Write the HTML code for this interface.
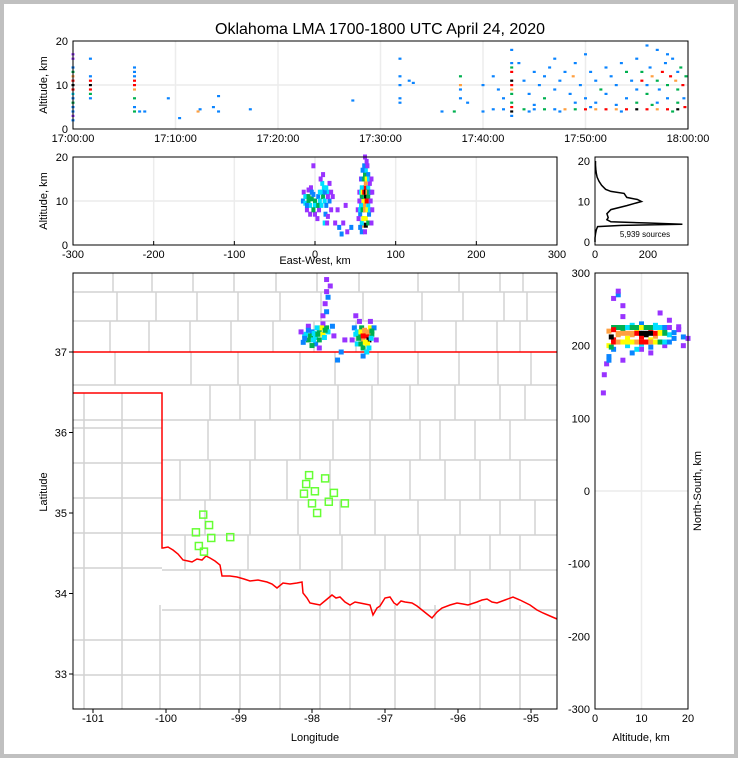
<!DOCTYPE html>
<html><head><meta charset="utf-8">
<style>
html,body{margin:0;padding:0;background:#c0c0c0;}
#wrap{position:absolute;left:4px;top:4px;width:730px;height:750px;background:#fff;}
svg{position:absolute;left:0;top:0;font-family:"Liberation Sans",sans-serif;}
</style></head>
<body>
<div id="wrap"></div>
<svg id="chart" width="738" height="758"></svg>
<script>
// ---------- data ----------
const colorScale = ["#9933ff","#0a84ff","#00e0ff","#00b050","#ffff00","#ffa040","#ff0000","#000000"];
// top panel: time (min after 17:00), altitude km, color index
const topT = [0,0,0,0,0,0,0,0,0,0,0,0,0,0,0, 1.7,1.7,1.7,1.7,1.7,1.7,1.7, 6,6,6,6,6,6,6,6,6,
 6.5,7,9.3,10.4,12.2,12.4,13.7,14.2,14.2,17.3,27.3,31.9,31.9,31.9,31.9,31.9,32.8,33.2,36,37.2,37.8,37.8,37.8,37.8,38.5,40,40,
 42.8,42.8,42.8,42.8,42.8,42.8,42.8,42.8,42.8,42.8,42.8,42.8,
 41,42,44,45,46,47,48,49,50,51,52,53,54,55,56,57,58,59,59.7,44.5,47.5,50.5,53.5,56.5,58.5,
 41,41.5,42,43.5,44,44.5,45,45.5,46,46,46.5,47,47.5,48,48.5,48.8,49,49.5,50,50.5,51,51.5,52,52,52.5,53,53.5,54,54,54.5,55,55,55.5,55.5,56,56,56.3,56.5,57,57,57.2,57.5,57.8,58,58,58.3,58.5,58.8,59,59,59.3,59.5,59.6,59.8,53,45,50,56,58,47,49,51,55,57,59];
const topZ = [2,3,5,6,7,8,9,10,11,12,13,14,16,17,4, 7,8,9,10,11,12,16, 5,7,9,10,11,12,13,14,4,
 4,4,7,2.5,4,4.5,5,4,7.5,4.5,6.5,16,12,7,6,10,11,10.5,4,4,12,10,9,7,6,10,4,
 18,15,13,11,10,9,8,6,5,4,3,14,
 4.5,4.5,4.5,4.5,4.5,4.5,4.5,4.5,4.5,4.5,4.5,4.5,4.5,4.5,4.5,4.5,4.5,4.5,5,4,4,5,4,5.5,4,
 12,9,7,15,11,8,13,10,7,12,14,9,11,13,8,12,15,10,7,13,11,9,14,8,12,10,15,13,7,11,9,16,13,11,10,8,14,12,18,11,9,13,15,10,7,12,16,11,9,13,14,10,7,12,5.5,5.5,17,19,17,16,6,6,6,6,6];
const topC = [1,0,1,3,1,2,6,7,6,5,3,1,0,0,1, 1,3,6,7,6,1,1, 1,3,5,6,6,1,1,1,3,
 1,1,1,1,5,1,1,1,1,1,1,1,1,1,1,1,1,1,1,3,3,5,1,1,1,1,1,
 1,1,6,7,6,5,3,3,6,7,1,3,
 1,1,3,1,3,1,5,3,6,5,6,5,6,7,6,5,6,7,6,1,1,1,1,3,3,
 1,1,1,1,1,1,1,1,3,1,1,1,1,1,1,5,1,1,1,1,1,3,1,1,1,1,1,3,1,1,1,1,3,6,1,3,1,5,1,3,1,6,1,3,1,6,1,5,3,1,3,6,1,3,1,1,1,1,1,1,1,1,3,1,3];
// east-west panel: x km, altitude km, color
const ewX = [-15,-12,-10,-8,-6,-4,-2,0,2,4,6,8,10,12,14,16,18,20,-14,-10,-5,0,5,9,11,13,12,15,18,-8,3,22,7,-2,10,16,-6,
 25,30,35,40,45,28,38,33,20,
 60,63,62,64,61,63,60,62,64,60,62,63,61,64,62,58,58,57,66,66,66,60,63,60,63,66,58,56,67,55,68,59,66,56,58,62,65,54,70,69,57,
 -12,-8,-4,0,4,8,12,16,-10,-2,6,14,
 55,57,59,61,63,65,67,69,71,53,56,59,62,65,68,71,58,61,64,67,70,60,64];
const ewZ = [10,9.5,11,10,9,10.5,11.5,10,9,11,10,12,11,10,9,12,10,8,12,8,13,7,8,14,13,7,5,5,14,12.5,6,11,15,18,16,6.5,7,
 5,4,5,3,4,8,9,2.5,12,
 12,11,13,10,9,14,10,8,12,15,16,17,18,19,20,11,13,9,11,13,9,6,6,4.5,4.5,5,5,7,7,10,14,17,16,4,3,3,18,6,5,10,15,
 11,11,12,9,9,9,12,11,9,8,12,13,
 12,12,12,12,12,12,12,12,12,8,8,8,8,8,8,8,15,15,15,15,15,6,10];
const ewC = [1,2,1,3,2,3,1,3,2,1,2,2,3,2,1,2,1,0,0,0,0,0,0,2,2,1,2,0,0,0,0,0,0,0,0,0,0,
 0,1,0,0,1,0,0,1,0,
 6,7,6,6,5,5,4,4,6,4,3,2,1,0,0,3,2,2,3,2,2,3,4,5,7,3,2,1,1,0,0,1,1,1,1,0,0,0,0,0,0,
 2,3,1,2,3,2,1,0,1,3,2,2,
 0,2,4,6,7,5,3,1,0,0,2,3,5,4,2,0,1,3,4,2,0,4,6];
// altitude histogram
const histZ = [0,1,2,3,3.8,4.1,4.4,4.7,5,5.5,6,7,8,9,10,10.5,11,12,12.5,13,14,15,16,17,18,19,20];
const histN = [0,0,2,5,10,100,330,200,60,45,50,45,60,120,175,160,120,110,60,40,25,15,8,5,3,2,2];
// plan view: lon, lat, color
const mapLon = [-98.1,-98.05,-98.0,-97.95,-97.9,-97.85,-97.8,-97.78,-98.15,-98.12,-97.95,-97.85,-97.72,-97.7,-98.05,-97.9,-98.0,
 -97.85,-97.8,-97.82,-97.78,-97.8,-97.75,-97.8,-97.55,-97.6,-97.65,-97.4,
 -97.35,-97.3,-97.25,-97.22,-97.28,-97.2,-97.32,-97.4,-97.38,-97.3,-97.25,-97.18,-97.15,-97.42,-97.3,-97.2,-97.35,-97.45,-97.12,
 -98.08,-98.02,-97.97,-97.92,-97.87,-97.82,-98.05,-97.98,-97.9,-97.83,-98.1,-97.93,
 -97.38,-97.33,-97.28,-97.23,-97.18,-97.36,-97.3,-97.24,-97.19,-97.33,-97.27,-97.22];
const mapLat = [37.2,37.15,37.25,37.18,37.28,37.22,37.3,37.25,37.25,37.12,37.1,37.35,37.32,37.2,37.32,37.05,37.08,
 37.45,37.5,37.6,37.68,37.75,37.82,37.9,37.15,37.0,36.9,37.45,
 37.2,37.15,37.2,37.15,37.25,37.3,37.3,37.22,37.1,37.05,37.0,37.22,37.3,37.3,36.95,37.38,37.38,37.15,37.15,
 37.22,37.2,37.23,37.22,37.3,37.27,37.27,37.15,37.15,37.18,37.17,37.3,
 37.25,37.25,37.27,37.25,37.26,37.17,37.2,37.1,37.17,37.1,37.12,37.05];
const mapC = [2,3,1,2,3,4,3,2,0,1,1,0,1,0,0,0,3,
 0,1,0,1,0,0,0,0,1,1,0,
 3,5,6,7,5,4,3,2,2,3,2,3,1,1,1,0,0,0,0,
 2,3,2,3,4,3,1,2,3,2,1,2,
 2,4,5,5,3,3,6,4,2,3,4,2];
// stations
const staLon = [-99.49,-99.41,-99.59,-99.38,-99.12,-99.55,-99.48,-98.04,-97.82,-98.08,-97.96,-97.70,-98.11,-98.00,-97.77,-97.55,-97.93];
const staLat = [34.98,34.85,34.76,34.69,34.70,34.59,34.52,35.47,35.43,35.36,35.27,35.25,35.24,35.12,35.14,35.12,35.00];
// north-south vs altitude
const nsAlt = [11,12,10,13,9,8,14,11,12,7,6,5,4,3.5,3,15,16,8,10,13,7,10,14,17,18,19,5,4,3,2.5,2,1.8,3,6,10,8,12,15,16,6,4,5,5,6,20,19,14,
 4,5,6,7,8,9,10,11,12,13,14,15,16, 4,5,6,7,8,9,10,11,12,13,14,15,16, 5,6,7,8,9,10,11,12,13,14,15, 3,4,3.5,17,18,12,9];
const nsY = [215,218,212,213,220,215,218,225,208,210,222,215,208,212,200,222,215,228,230,228,200,202,205,210,222,212,225,195,185,175,160,135,180,180,195,190,190,200,235,240,265,270,275,255,210,200,245,
 205,205,205,205,205,205,205,205,205,205,205,205,205, 225,225,225,225,225,225,225,225,225,225,225,225,225, 217,217,217,217,217,217,217,217,217,217,217, 220,222,198,218,226,198,195];
const nsC = [7,6,6,5,4,5,4,3,4,4,3,5,6,7,4,3,2,2,1,2,2,2,1,1,0,1,2,1,1,0,0,0,1,0,0,1,0,0,0,0,0,1,0,0,0,0,0,
 6,5,4,4,4,5,6,6,5,4,3,2,1, 3,3,3,2,3,3,4,3,3,2,2,1,0, 5,5,5,5,6,7,7,7,6,4,3, 5,6,3,1,0,1,2];
// tick labels
const topTicks = ["17:00:00","17:10:00","17:20:00","17:30:00","17:40:00","17:50:00","18:00:00"];
const ewTicks = [-300,-200,-100,0,100,200,300];
const lonTicks = [-101,-100,-99,-98,-97,-96,-95];
const latTicks = [33,34,35,36,37];
const nsTicks = [300,200,100,0,-100,-200,-300];

// ---------- helpers ----------
const NS="http://www.w3.org/2000/svg";
const svg=document.getElementById('chart');
function el(tag,attrs,parent){const e=document.createElementNS(NS,tag);for(const k in attrs)e.setAttribute(k,attrs[k]);(parent||svg).appendChild(e);return e;}
function lin(d0,d1,r0,r1){return v=>r0+(v-d0)*(r1-r0)/(d1-d0);}
function txt(x,y,s,size,anchor,name,rot){const t=el('text',{x:x,y:y,'font-size':size,'text-anchor':anchor||'middle',fill:'#000'});if(rot)t.setAttribute('transform',`rotate(${rot} ${x} ${y})`);t.textContent=s;


return t;}

const tx=lin(0,60,73,688), tz=lin(0,20,129,41);
const ex=lin(-300,300,73,557), ez=lin(0,20,245,157);
const hx=lin(0,351,595,688), hz=lin(0,20,242,161);
const mx=lin(-101,-95,93,531), my=lin(37,33,352,674);
const rx=lin(0,20,595,688), ry=lin(300,-300,273,709);

txt(380,34,"Oklahoma LMA 1700-1800 UTC April 24, 2020",16,'middle','chart-title');

// ---- top panel ----
const gTop=el('g',{});


for(let i=0;i<=6;i++){const x=tx(i*10);el('line',{x1:x,x2:x,y1:41,y2:129,stroke:'#ececec','stroke-width':1.5},gTop);
 txt(x,142,topTicks[i],11,'middle','time-tick-label');}
el('line',{x1:73,x2:688,y1:tz(10),y2:tz(10),stroke:'#ececec','stroke-width':1.5},gTop);
for(let i=0;i<topT.length;i++){const r=el('rect',{x:tx(topT[i])-1.5,y:tz(topZ[i])-1,width:3,height:2.2,fill:colorScale[topC[i]]},gTop);
 
 }
el('rect',{x:73,y:41,width:615,height:88,fill:'none',stroke:'#000','stroke-width':1},gTop);
[0,10,20].forEach(v=>txt(68,tz(v)+4,String(v),11,'end','altitude-tick-label'));
txt(47,85,"Altitude, km",11,'middle','top-y-axis-title',-90);

// ---- EW panel ----
const gEw=el('g',{});


ewTicks.forEach(v=>{const x=ex(v);el('line',{x1:x,x2:x,y1:157,y2:245,stroke:'#ececec','stroke-width':1.5},gEw);
 el('line',{x1:x,x2:x,y1:245,y2:241,stroke:'#000'},gEw);txt(x,258,String(v),11,'middle','ew-tick-label');});
el('line',{x1:73,x2:557,y1:ez(10),y2:ez(10),stroke:'#ececec','stroke-width':1.5},gEw);
for(let i=0;i<ewX.length;i++){const r=el('rect',{x:ex(ewX[i])-2,y:ez(ewZ[i])-2.5,width:4,height:5,fill:colorScale[ewC[i]]},gEw);
 
 }
el('rect',{x:73,y:157,width:484,height:88,fill:'none',stroke:'#000'},gEw);
[0,10,20].forEach(v=>txt(68,ez(v)+4,String(v),11,'end','ew-altitude-tick-label'));
txt(47,201,"Altitude, km",11,'middle','ew-y-axis-title',-90);
txt(315,264,"East-West, km",11,'middle','ew-x-axis-title');

// ---- histogram ----
const gH=el('g',{});


let hp=histZ.map((z,i)=>`${hx(histN[i]).toFixed(1)},${hz(z).toFixed(1)}`).join(' ');
const hl=el('polyline',{points:hp,fill:'none',stroke:'#000','stroke-width':1.5},gH);


el('rect',{x:595,y:157,width:93,height:88,fill:'none',stroke:'#000'},gH);
[0,10,20].forEach(v=>txt(590,hz(v)+4,String(v),11,'end','hist-y-tick-label'));
[0,200].forEach(v=>txt(hx(v),258,String(v),11,'middle','hist-x-tick-label'));
txt(645,237,"5,939 sources",8,'middle','source-count-label');

// ---- map ----
const gM=el('g',{});


const cg=el('g',{stroke:'#d2d2d2','stroke-width':1.5,fill:'none'},gM);


function hline(y,x1,x2){el('line',{x1:x1,x2:x2,y1:y,y2:y},cg);}
function vline(x,y1,y2){el('line',{x1:x,x2:x,y1:y1,y2:y2},cg);}
[292,321].forEach(y=>hline(y,73,557));
[113,152,193,234,276,317,359,418,459,500,523].forEach(x=>{vline(x,273,292);vline(x+4,292,321);vline(x-3,321,352);});
const okRows=[[352,385,[115,191,238,300,335,378,418,459,498,531]],[385,420,[210,240,270,300,338,372,410,455,500,525]],
[420,460,[208,255,300,333,370,420,440,475,510]],[460,500,[180,210,250,287,330,370,410,445,480,520]],
[500,535,[205,250,298,340,375,418,460,500,535]],[535,570,[185,248,300,342,385,420,455,490,520]],[570,610,[200,240,280,330,380,420,470,510]]];
okRows.forEach(r=>{hline(r[1],r[0]<393?73:162,557);r[2].forEach(x=>vline(x,r[0],r[1]));});
[428,463,498,533,568].forEach(y=>hline(y,73,162));
[84,122].forEach(x=>vline(x,393,709));
[640,675].forEach(y=>hline(y,73,557));
[160,200,240,280,320,350,395,435,480,520].forEach(x=>vline(x,605,709));
const rv="163,548 168,547 173,550 178,554 183,560 188,561 192,562 197,559 202,560 206,556 210,558 215,561 220,565 222,576 230,576 237,577 244,579 250,581 258,580 267,582 272,584 277,588 283,583 290,584 297,583 302,582 303,593 307,598 310,603 315,604 320,605 326,600 332,595 336,598 340,597 345,602 350,605 355,602 360,603 365,604 370,605 373,615 377,608 380,606 385,598 390,597 394,603 397,605 401,601 405,602 412,603 417,606 422,610 427,614 432,618 437,612 442,608 450,605 457,603 463,604 468,605 477,602 482,600 487,599 492,602 497,603 505,600 513,597 520,600 530,605 537,610 543,613 550,616 557,619";
const sb=el('polyline',{points:"73,393 162,393 162,548 "+rv,fill:'none',stroke:'#ff0000','stroke-width':1.5},gM);


const sb2=el('line',{x1:73,x2:557,y1:my(37),y2:my(37),stroke:'#ff0000','stroke-width':1.5},gM);


for(let i=0;i<mapLon.length;i++){const r=el('rect',{x:mx(mapLon[i])-2.5,y:my(mapLat[i])-2.5,width:5,height:5,fill:colorScale[mapC[i]]},gM);
 
 }
for(let i=0;i<staLon.length;i++){const s=el('rect',{x:mx(staLon[i])-3.5,y:my(staLat[i])-3.5,width:7,height:7,fill:'none',stroke:'#66ff33','stroke-width':1.5},gM);
 
 }
el('rect',{x:73,y:273,width:484,height:436,fill:'none',stroke:'#000'},gM);
lonTicks.forEach(v=>{el('line',{x1:mx(v),x2:mx(v),y1:709,y2:713,stroke:'#000'},gM);txt(mx(v),722,String(v),11,'middle','longitude-tick-label');});
latTicks.forEach(v=>{el('line',{x1:69,x2:73,y1:my(v),y2:my(v),stroke:'#000'},gM);txt(67,my(v)+4,String(v),11,'end','latitude-tick-label');});
txt(315,741,"Longitude",11,'middle','map-x-axis-title');
txt(47,492,"Latitude",11,'middle','map-y-axis-title',-90);

// ---- NS panel ----
const gR=el('g',{});


[10].forEach(v=>el('line',{x1:rx(v),x2:rx(v),y1:273,y2:709,stroke:'#ececec','stroke-width':1.5},gR));
el('line',{x1:595,x2:688,y1:ry(0),y2:ry(0),stroke:'#ececec','stroke-width':1.5},gR);
for(let i=0;i<nsAlt.length;i++){const r=el('rect',{x:rx(nsAlt[i])-2.5,y:ry(nsY[i])-2.5,width:5,height:5,fill:colorScale[nsC[i]]},gR);
 
 }
el('rect',{x:595,y:273,width:93,height:436,fill:'none',stroke:'#000'},gR);
nsTicks.forEach(v=>txt(590,ry(v)+4,String(v),11,'end','ns-tick-label'));
[0,10,20].forEach(v=>txt(rx(v),722,String(v),11,'middle','ns-altitude-tick-label'));
txt(641,741,"Altitude, km",11,'middle','ns-x-axis-title');
txt(701,491,"North-South, km",11,'middle','ns-y-axis-title',-90);
</script>
</body></html>
